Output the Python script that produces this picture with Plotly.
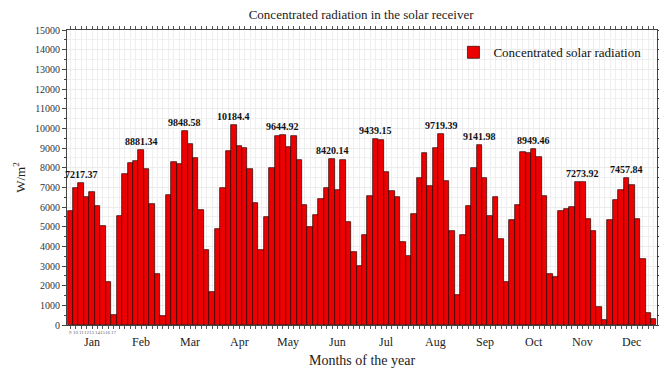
import plotly.graph_objects as go

months = ["Jan", "Feb", "Mar", "Apr", "May", "Jun", "Jul", "Aug", "Sep", "Oct", "Nov", "Dec"]
hours = [9, 10, 11, 12, 13, 14, 15, 16, 17]

jan = [5800, 6980, 7217.37, 6490, 6760, 6030, 5050, 2170, 510]
feb = [5560, 7690, 8240, 8340, 8881.34, 7910, 6150, 2610, 460]
mar = [6610, 8270, 8200, 9848.58, 9220, 8480, 5830, 3810, 1690]
apr = [4880, 6980, 8850, 10184.4, 9120, 8980, 7950, 6220, 3810]
may = [5480, 7970, 9630, 9644.92, 9040, 9610, 8370, 6090, 4980]
jun = [5590, 6410, 6970, 8420.14, 6870, 8410, 5220, 3700, 3020]
jul = [4580, 6580, 9439.15, 9430, 7800, 6810, 6520, 4240, 3520]
aug = [5650, 7490, 8730, 7070, 9020, 9719.39, 7340, 4780, 1530]
sep = [4590, 6050, 7970, 9141.98, 7490, 5550, 6520, 4360, 2170]
oct_ = [5340, 6080, 8810, 8760, 8949.46, 8540, 6580, 2590, 2460]
nov = [5780, 5880, 6020, 7265, 7273.92, 5410, 4780, 930, 250]
dec = [5340, 6370, 6880, 7457.84, 7100, 5390, 3360, 610, 300]

monthly = [jan, feb, mar, apr, may, jun, jul, aug, sep, oct_, nov, dec]

values = [v for m in monthly for v in m]
xs = list(range(len(values)))
nh = len(hours)

serif = "Liberation Serif, Times New Roman, serif"

fig = go.Figure()
fig.add_trace(go.Bar(
    x=xs, y=values, name="Concentrated solar radiation",
    marker=dict(color="#ec0000", line=dict(color="#2a0000", width=0.7)),
    width=1.0,
))

annotations = []
for mi, mvals in enumerate(monthly):
    k = max(range(nh), key=lambda i: mvals[i])
    v = mvals[k]
    annotations.append(dict(
        x=mi * nh + k, y=v, xref="x", yref="y", text=f"<b>{v:g}</b>",
        showarrow=False, yanchor="bottom", yshift=1,
        font=dict(family=serif, size=10, color="#111"),
    ))
    annotations.append(dict(
        x=mi * nh + (nh - 1) / 2, y=0, xref="x", yref="paper", text=months[mi],
        showarrow=False, yanchor="top", yshift=-8,
        font=dict(family=serif, size=12, color="#222"),
    ))

for i, h in enumerate(hours):
    annotations.append(dict(
        x=i, y=0, xref="x", yref="paper", text=str(h),
        showarrow=False, yanchor="top", yshift=-3,
        font=dict(family=serif, size=5, color="#666"),
    ))

annotations.append(dict(
    x=0.5, y=0, xref="paper", yref="paper", text="Months of the year",
    showarrow=False, yanchor="top", yshift=-26,
    font=dict(family=serif, size=14, color="#222"),
))

fig.update_layout(
    width=659, height=368,
    margin=dict(l=67, r=2, t=30, b=43),
    plot_bgcolor="white", paper_bgcolor="white",
    bargap=0,
    title=dict(text="Concentrated radiation in the solar receiver", x=0.548, xanchor="center",
               y=0.96, yanchor="middle",
               font=dict(family=serif, size=13, color="#222")),
    showlegend=True,
    legend=dict(x=0.655, y=0.975, xanchor="left", yanchor="top",
                bgcolor="rgba(255,255,255,0)", borderwidth=0,
                font=dict(family=serif, size=13, color="#111")),
    annotations=annotations,
)

fig.update_xaxes(
    range=[-0.6, len(values) - 0.4],
    tickmode="array", tickvals=xs, showticklabels=False,
    ticks="outside", ticklen=3, tickcolor="#555", tickwidth=0.6,
    showline=True, linecolor="#444", linewidth=1, mirror="ticks",
    showgrid=True, gridcolor="#efefef", gridwidth=0.5,
    zeroline=False, automargin=False,
)
fig.update_yaxes(
    range=[0, 15000], dtick=1000, tick0=0, tickformat="d",
    tickfont=dict(family=serif, size=10, color="#333"),
    ticks="outside", ticklen=4, tickcolor="#444",
    minor=dict(dtick=500, ticks="outside", ticklen=2, tickcolor="#444",
               showgrid=True, gridcolor="#f0f0f0", gridwidth=0.5),
    showline=True, linecolor="#444", linewidth=1, mirror="ticks",
    showgrid=True, gridcolor="#ececec", gridwidth=0.5,
    zeroline=False, automargin=False,
    title=dict(text="W/m<sup>2</sup>", font=dict(family=serif, size=13, color="#222"), standoff=6),
)

fig.write_html("out.html", config={"displayModeBar": False},
               post_script="document.body.style.margin='0px';")
